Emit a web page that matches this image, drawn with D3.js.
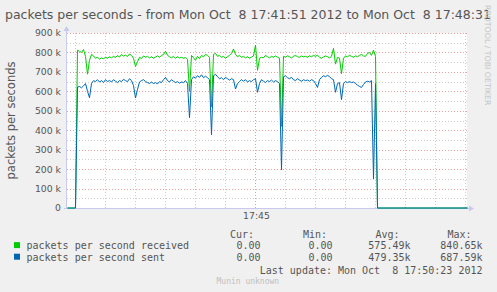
<!DOCTYPE html>
<html><head><meta charset="utf-8">
<script src="https://cdn.jsdelivr.net/npm/d3@7"></script>
<style>
html,body{margin:0;padding:0;background:#F0F0F0;}
svg{display:block;}
text{white-space:pre;}
</style></head>
<body>
<svg id="c" width="497" height="292"></svg>
<script>
// ---- data ----
const title = "packets per seconds - from Mon Oct  8 17:41:51 2012 to Mon Oct  8 17:48:31";
const yTitle = "packets per seconds";
const startSec = 0, stepSec = 2, spanSec = 400;   // seconds from 17:41:51
const yTicks = [0,100000,200000,300000,400000,500000,600000,700000,800000,900000];
const xTickSec = [189];
const xTickLabels = ["17:45"];
const xMinorSec = [9,39,69,99,129,159,219,249,279,309,339,369,399];
const seriesNames = ["packets per second received","packets per second sent"];
// values in k packets/s, one every 2 s
const received = [0,0,0,0,0,
812,806,800,815,780,688,760,790,782,770,776,765,772,768,775,770,778,772,780,774,784,776,790,781,786,779,792,785,770,728,752,775,768,782,775,780,772,778,770,776,783,775,785,790,806,785,778,772,780,770,778,772,775,770,774,765,600,785,772,760,780,768,785,777,790,785,775,520,790,795,780,785,775,780,770,778,785,795,818,790,778,785,775,780,772,778,770,776,782,838,708,770,775,772,785,778,772,780,775,782,776,770,420,780,776,783,778,772,780,785,778,775,782,777,780,775,783,778,785,780,786,775,770,777,782,778,772,780,821,740,775,770,690,770,782,778,785,780,775,782,778,785,790,782,780,795,800,785,812,780,0,
0,0,0,0,0,0,0,0,0,0,0,0,0,0,0,0,0,0,0,0,0,0,0,0,0,0,0,0,0,0,0,0,0,0,0,0,0,0,0,0,0,0,0,0,0];
const sent = [0,0,0,0,0,
622,625,618,628,640,600,567,640,655,650,660,648,655,645,660,650,656,648,660,652,645,655,650,662,655,650,665,655,630,566,610,648,655,660,650,645,640,648,640,645,638,650,645,660,672,655,648,660,652,645,650,642,648,645,655,640,464,660,675,668,680,672,685,670,678,670,660,377,680,688,675,665,670,660,672,665,658,665,660,612,640,650,660,652,660,648,655,650,660,665,595,640,660,652,645,655,650,658,648,655,650,640,197,675,680,670,665,672,660,655,665,658,652,660,655,658,652,660,655,640,620,660,672,680,675,682,676,665,660,595,640,645,557,640,650,645,650,645,648,640,632,625,620,635,648,652,648,655,149,640,0,
0,0,0,0,0,0,0,0,0,0,0,0,0,0,0,0,0,0,0,0,0,0,0,0,0,0,0,0,0,0,0,0,0,0,0,0,0,0,0,0,0,0,0,0,0];
const legendHeads = ["Cur:","Min:","Avg:","Max:"];
const statsReceived = ["0.00","0.00","575.49k","840.65k"];
const statsSent = ["0.00","0.00","479.35k","687.59k"];
const lastUpdate = "Last update: Mon Oct  8 17:50:23 2012";
const colors = ["#00CC00","#0066B3"];

// ---- drawing ----
const svg = d3.select("#c");
const L = 67, R = 467, T = 33, B = 208;
const x = d3.scaleLinear().domain([0, spanSec]).range([L, R]);
const y = d3.scaleLinear().domain([0, 900000]).range([B, T]);
const sans = "'DejaVu Sans', Verdana, sans-serif";
const mono = "'DejaVu Sans Mono', monospace";
const txt = "#555555";

svg.append("rect").attr("x", L).attr("y", T).attr("width", R - L).attr("height", B - T).attr("fill", "#fff");

// minor horizontal grid (50k)
const g = svg.append("g");
for (let v = 50000; v < 900000; v += 100000) {
  g.append("line").attr("x1", L).attr("x2", R).attr("y1", Math.round(y(v)) + 0.5).attr("y2", Math.round(y(v)) + 0.5)
    .attr("stroke", "#cccccc").attr("stroke-dasharray", "1,2");
}
xMinorSec.forEach(s => {
  g.append("line").attr("x1", Math.round(x(s)) - 0.5).attr("x2", Math.round(x(s)) - 0.5).attr("y1", T).attr("y2", B)
    .attr("stroke", "#cccccc").attr("stroke-dasharray", "1,2");
});
yTicks.slice(1).forEach(v => {
  g.append("line").attr("x1", L).attr("x2", R).attr("y1", Math.round(y(v)) + 0.5).attr("y2", Math.round(y(v)) + 0.5)
    .attr("stroke", "#eaa0a0").attr("stroke-dasharray", "1,2");
});
xTickSec.forEach(s => {
  g.append("line").attr("x1", Math.round(x(s)) - 0.5).attr("x2", Math.round(x(s)) - 0.5).attr("y1", T).attr("y2", B)
    .attr("stroke", "#eaa0a0").attr("stroke-dasharray", "1,2");
});

// axes lines + arrows
const axC = "#c8c8f0";
svg.append("line").attr("x1", L - 0.5).attr("x2", L - 0.5).attr("y1", B).attr("y2", T - 3).attr("stroke", axC);
svg.append("line").attr("x1", L - 3).attr("x2", R + 3).attr("y1", B + 0.5).attr("y2", B + 0.5).attr("stroke", axC);
svg.append("path").attr("d", `M${L-3.5},${T-2}L${L+2.5},${T-2}L${L-0.5},${T-7}Z`).attr("fill", axC);
svg.append("path").attr("d", `M${R+2},${B-2.5}L${R+2},${B+3.5}L${R+7},${B+0.5}Z`).attr("fill", axC);

// y axis labels
const yAxis = d3.axisLeft(y).tickValues(yTicks).tickSize(0).tickPadding(6)
  .tickFormat(v => v === 0 ? "0" : (v / 1000) + " k");
const ya = svg.append("g").attr("transform", `translate(${L},0)`).call(yAxis);
ya.select(".domain").remove();
ya.selectAll("text").attr("font-family", sans).attr("font-size", "9.3px").attr("fill", txt);

// x axis labels
const xAxis = d3.axisBottom(x).tickValues(xTickSec).tickSize(0).tickPadding(4)
  .tickFormat((d, i) => xTickLabels[i]);
const xa = svg.append("g").attr("transform", `translate(0,${B})`).call(xAxis);
xa.select(".domain").remove();
xa.selectAll("text").attr("font-family", sans).attr("font-size", "9.3px").attr("fill", txt);

// lines
const line = d3.line().x((d, i) => x(startSec + i * stepSec) + 0.5).y(d => y(d * 1000));
[received, sent].forEach((s, k) => {
  svg.append("path").datum(s).attr("d", line).attr("fill", "none").attr("stroke", colors[k]).attr("stroke-width", 1);
});

// titles
svg.append("text").attr("x", 5).attr("y", 19).attr("font-family", sans).attr("font-size", "12.5px")
  .attr("fill", txt).text(title);
svg.append("text").attr("transform", `translate(15,${(T + B) / 2}) rotate(-90)`).attr("text-anchor", "middle")
  .attr("font-family", sans).attr("font-size", "11.5px").attr("fill", txt).text(yTitle);
svg.append("text").attr("transform", `translate(485,5) rotate(90)`).attr("font-family", sans)
  .attr("font-size", "7.8px").attr("fill", "#c4c4c4").text("RRDTOOL / TOBI OETIKER");

// legend
const headX = [230, 303, 375.5, 447.5];
const colEnd = [260.5, 332.5, 410.5, 482.5];
legendHeads.forEach((h, i) => svg.append("text").attr("x", headX[i]).attr("y", 237.5)
  .attr("font-family", mono).attr("font-size", "10px").attr("fill", txt).text(h));
[statsReceived, statsSent].forEach((st, k) => {
  const yy = 249.3 + k * 11.6;
  svg.append("rect").attr("x", 14).attr("y", yy - 7.2).attr("width", 6).attr("height", 6).attr("fill", colors[k]);
  svg.append("text").attr("x", 26.5).attr("y", yy).attr("font-family", mono).attr("font-size", "10px")
    .attr("fill", txt).text(seriesNames[k]);
  st.forEach((v, i) => svg.append("text").attr("x", colEnd[i]).attr("y", yy).attr("text-anchor", "end")
    .attr("font-family", mono).attr("font-size", "10px").attr("fill", txt).text(v));
});
svg.append("text").attr("x", 482.5).attr("y", 273.5).attr("text-anchor", "end").attr("font-family", mono)
  .attr("font-size", "10px").attr("fill", txt).text(lastUpdate);
svg.append("text").attr("x", 216.5).attr("y", 284).attr("font-family", mono).attr("font-size", "8px")
  .attr("fill", "#c0c0c0").text("Munin unknown");
</script>
</body></html>
